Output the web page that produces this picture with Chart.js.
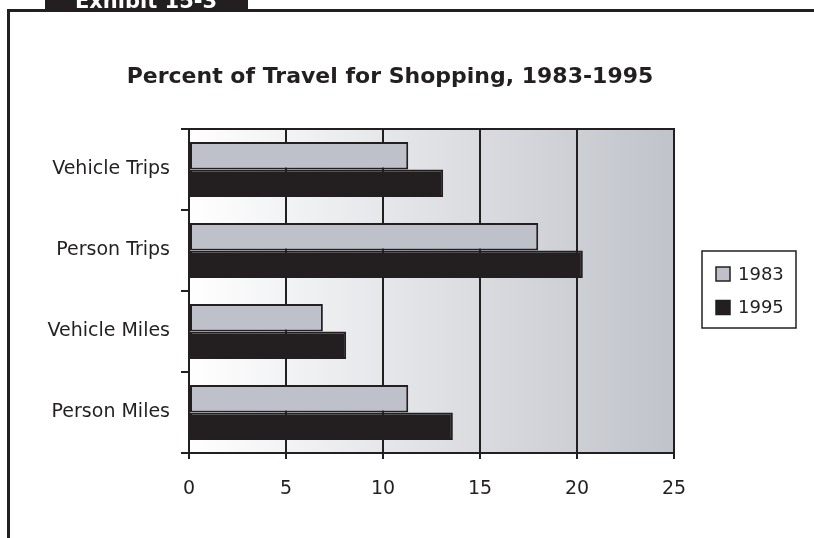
<!DOCTYPE html>
<html>
<head>
<meta charset="utf-8">
<script src="https://cdn.jsdelivr.net/npm/chart.js@4/dist/chart.umd.min.js"></script>
<style>
html,body{margin:0;padding:0;background:#fff;}
#wrap{position:relative;width:814px;height:538px;}
canvas{display:block;}
</style>
</head>
<body>
<div id="wrap"><canvas id="c" width="814" height="538"></canvas></div>
<script>
const categories = ['Vehicle Trips', 'Person Trips', 'Vehicle Miles', 'Person Miles'];
const values1983 = [11.3, 18.0, 6.9, 11.3];
const values1995 = [13.1, 20.3, 8.1, 13.6];
const seriesLabels = ['1983', '1995'];
const xTicks = [0, 5, 10, 15, 20, 25];
const titleText = 'Percent of Travel for Shopping, 1983-1995';
const exhibitText = 'Exhibit 15-3';

const INK = '#231f20';
const FONT = '"DejaVu Sans", Verdana, sans-serif';

const decor = {
  id: 'decor',
  beforeDraw(chart) {
    const ctx = chart.ctx;
    const a = chart.chartArea;
    ctx.save();
    ctx.fillStyle = '#fff';
    ctx.fillRect(0, 0, chart.width, chart.height);
    // frame
    ctx.fillStyle = INK;
    ctx.fillRect(7, 9, chart.width - 7, 3);
    ctx.fillRect(7, 9, 3, chart.height - 9);
    // exhibit tab
    ctx.fillRect(45, 0, 203, 11);
    ctx.fillStyle = '#fff';
    ctx.font = 'bold 21px ' + FONT;
    ctx.textAlign = 'center';
    ctx.textBaseline = 'alphabetic';
    ctx.fillText(exhibitText, 146, 8);
    // title
    ctx.fillStyle = INK;
    ctx.font = 'bold 22px ' + FONT;
    ctx.textBaseline = 'middle';
    ctx.fillText(titleText, 390, 77);
    // plot gradient
    const g = ctx.createLinearGradient(a.left, 0, a.right, 0);
    g.addColorStop(0, '#ffffff');
    g.addColorStop(1, '#c0c3ca');
    ctx.fillStyle = g;
    ctx.fillRect(a.left, a.top, a.right - a.left, a.bottom - a.top);
    ctx.restore();
  },
  afterDraw(chart) {
    const ctx = chart.ctx;
    const a = chart.chartArea;
    ctx.save();
    ctx.strokeStyle = INK;
    ctx.lineWidth = 2;
    ctx.beginPath();
    ctx.moveTo(a.left, a.top);
    ctx.lineTo(a.right, a.top);
    ctx.lineTo(a.right, a.bottom);
    ctx.stroke();
    // legend
    const lx = 702, ly = 251, lw = 94, lh = 77;
    ctx.lineWidth = 1.5;
    ctx.strokeRect(lx, ly, lw, lh);
    ctx.font = '18px ' + FONT;
    ctx.textAlign = 'left';
    ctx.textBaseline = 'middle';
    chart.data.datasets.forEach((ds, i) => {
      const cy = 274 + i * 33.5;
      ctx.fillStyle = ds.backgroundColor;
      ctx.fillRect(716, cy - 7, 14, 14);
      ctx.lineWidth = 1.5;
      ctx.strokeRect(716, cy - 7, 14, 14);
      ctx.fillStyle = INK;
      ctx.fillText(ds.label, 738, cy + 1);
    });
    ctx.restore();
  }
};

new Chart(document.getElementById('c'), {
  type: 'bar',
  data: {
    labels: categories,
    datasets: [
      { label: seriesLabels[0], data: values1983, backgroundColor: '#bec1c9', borderColor: INK, borderWidth: 2, borderSkipped: false },
      { label: seriesLabels[1], data: values1995, backgroundColor: INK, borderColor: INK, borderWidth: 2, borderSkipped: false }
    ]
  },
  options: {
    indexAxis: 'y',
    responsive: false,
    animation: false,
    devicePixelRatio: 1,
    categoryPercentage: 0.68,
    barPercentage: 1.0,
    layout: { padding: { top: 129, right: 140, left: 0, bottom: 0 } },
    plugins: { legend: { display: false }, title: { display: false }, tooltip: { enabled: false } },
    scales: {
      x: {
        min: 0, max: 25,
        afterBuildTicks(s) { s.ticks = xTicks.map(v => ({ value: v })); },
        afterFit(s) { s.height = 85; },
        ticks: { color: INK, font: { family: FONT, size: 19 }, padding: 19 },
        grid: { color: INK, lineWidth: 2, tickLength: 6, drawOnChartArea: true },
        border: { display: true, color: INK, width: 2 }
      },
      y: {
        afterFit(s) { s.width = 189; },
        ticks: { color: INK, font: { family: FONT, size: 19 }, padding: 11 },
        grid: { color: INK, lineWidth: 2, tickLength: 8, drawOnChartArea: false, offset: true },
        border: { display: true, color: INK, width: 2 }
      }
    }
  },
  plugins: [decor]
});
</script>
</body>
</html>
